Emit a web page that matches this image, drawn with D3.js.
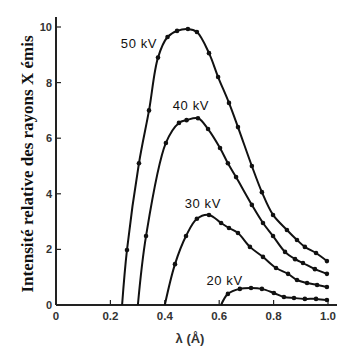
<!DOCTYPE html>
<html><head><meta charset="utf-8">
<script src="https://cdn.jsdelivr.net/npm/d3@7"></script>
<style>body{margin:0;background:#fff}svg{display:block}</style>
</head><body>
<svg id="c" width="350" height="346"></svg>
<script>
// Data (wavelength in Å, relative intensity)
const series = ["50 kV", "40 kV", "30 kV", "20 kV"];
const lambda50 = [0.243,0.261,0.305,0.342,0.375,0.41,0.445,0.485,0.518,0.5625,0.596,0.636,0.669,0.72,0.757,0.798,0.849,0.886,0.915,0.956,0.996];
const inten50  = [0,1.98,5.1,7.0,8.9,9.64,9.86,9.93,9.82,9.06,8.2,7.27,6.4,5.0,4.06,3.24,2.7,2.34,2.09,1.87,1.58];
const lambda40 = [0.301,0.331,0.404,0.452,0.48,0.522,0.559,0.603,0.632,0.662,0.72,0.761,0.798,0.842,0.879,0.908,0.952,0.996];
const inten40  = [0,2.48,5.83,6.55,6.65,6.72,6.33,5.65,5.1,4.6,3.6,2.95,2.48,1.91,1.65,1.51,1.29,1.12];
const lambda30 = [0.40,0.4375,0.478,0.518,0.5625,0.607,0.636,0.669,0.713,0.761,0.809,0.853,0.886,0.923,0.96,0.996];
const inten30  = [0,1.47,2.48,3.1,3.24,2.95,2.77,2.59,2.09,1.73,1.33,1.12,0.9,0.79,0.72,0.65];
const lambda20 = [0.607,0.632,0.676,0.717,0.757,0.801,0.838,0.875,0.915,0.956,0.996];
const inten20  = [0,0.4,0.58,0.61,0.58,0.43,0.29,0.25,0.22,0.22,0.18];
const xTicks = [0,0.2,0.4,0.6,0.8,1.0];
const xTickLabels = ["0","0.2","0.4","0.6","0.8","1.0"];
const yTicks = [0,2,4,6,8,10];
const yTickLabels = ["0","2","4","6","8","10"];
// label anchor positions in data units
const labelLambda = [0.305, 0.496, 0.54, 0.62];
const labelInten  = [9.24, 7.0, 3.5, 0.72];

const xs = [lambda50, lambda40, lambda30, lambda20];
const ys = [inten50, inten40, inten30, inten20];

const svg = d3.select("#c");
const x = d3.scaleLinear().domain([0,1]).range([56,328]);
const y = d3.scaleLinear().domain([0,10]).range([305,27]);
const ink = "#222";

// axes
svg.append("line").attr("x1",x(0)).attr("x2",x(0)).attr("y1",17).attr("y2",y(0))
  .attr("stroke",ink).attr("stroke-width",2);
svg.append("line").attr("x1",x(0)).attr("x2",337).attr("y1",y(0)).attr("y2",y(0))
  .attr("stroke",ink).attr("stroke-width",2);

// y ticks (inward)
svg.selectAll(".yt").data(yTicks.slice(1)).join("line")
  .attr("x1",x(0)).attr("x2",x(0)+5).attr("y1",d=>y(d)).attr("y2",d=>y(d))
  .attr("stroke",ink).attr("stroke-width",1.2);
svg.selectAll(".yl").data(yTicks).join("text")
  .attr("x",x(0)-4).attr("y",d=>y(d)+4).attr("text-anchor","end")
  .attr("font-family","Liberation Sans, Arial, sans-serif").attr("font-size",11).attr("font-weight","bold")
  .attr("fill","#333").text((d,i)=>yTickLabels[i]);

// x ticks (inward)
svg.selectAll(".xt").data(xTicks.slice(1)).join("line")
  .attr("x1",d=>x(d)).attr("x2",d=>x(d)).attr("y1",y(0)).attr("y2",y(0)-5)
  .attr("stroke",ink).attr("stroke-width",1.2);
svg.selectAll(".xl").data(xTicks).join("text")
  .attr("x",d=>x(d)).attr("y",320).attr("text-anchor","middle")
  .attr("font-family","Liberation Sans, Arial, sans-serif").attr("font-size",11.5).attr("font-weight","bold")
  .attr("fill","#333").text((d,i)=>xTickLabels[i]);

// axis titles
svg.append("text").attr("x",190).attr("y",343).attr("text-anchor","middle")
  .attr("font-family","Liberation Sans, Arial, sans-serif").attr("font-size",13).attr("font-weight","bold")
  .attr("fill","#333").text("λ (Å)");
svg.append("text").attr("transform","translate(33,164) rotate(-90)").attr("text-anchor","middle")
  .attr("font-family","Liberation Serif, Times New Roman, serif").attr("font-size",17).attr("font-weight","bold")
  .attr("fill","#111").text("Intensité relative des rayons X émis");

// curves
const line = d3.line().x(d=>x(d[0])).y(d=>y(d[1])).curve(d3.curveCatmullRom.alpha(0.5));
xs.forEach((lx,k)=>{
  const pts = lx.map((v,i)=>[v, ys[k][i]]);
  svg.append("path").attr("d",line(pts)).attr("fill","none").attr("stroke","#111").attr("stroke-width",2);
  svg.selectAll(".p"+k).data(pts.slice(1)).join("circle")
    .attr("cx",d=>x(d[0])).attr("cy",d=>y(d[1])).attr("r",2.3).attr("fill","#111");
  svg.append("text").attr("x",x(labelLambda[k])).attr("y",y(labelInten[k]))
    .attr("text-anchor","middle")
    .attr("font-family","Liberation Sans, Arial, sans-serif").attr("font-size",13)
    .attr("fill","#111").attr("letter-spacing",0.6).text(series[k]);
});
</script>
</body></html>
